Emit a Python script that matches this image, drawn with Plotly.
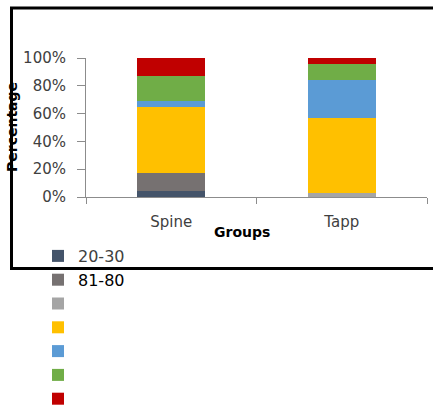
import plotly.graph_objects as go

# Age-band shares per surgical group (fractions of 1)
groups = ["Spine", "Tapp"]
bands = ["20-30", "81-80", " ", "  ", "   ", "    ", "     "]
colors = ["#44546A", "#767171", "#A5A5A5", "#FFC000", "#5B9BD5", "#70AD47", "#C00000"]
share_spine = [0.04, 0.13, 0.00, 0.48, 0.04, 0.18, 0.13]
share_tapp = [0.00, 0.00, 0.03, 0.54, 0.27, 0.12, 0.04]

W, H = 433, 405
ML, MR, MT, MB = 86, 6, 58, 208
PW, PH = W - ML - MR, H - MT - MB


def px_x(p):
    return (p - ML) / PW


def px_y(p):
    return (H - MB - p) / PH


fig = go.Figure()
for i, name in enumerate(bands):
    label = name
    if name == "81-80":
        label = "<span style='color:#000000'>81-80</span>"
    fig.add_trace(go.Bar(
        x=groups,
        y=[share_spine[i], share_tapp[i]],
        name=label,
        marker=dict(color=colors[i], line=dict(width=0)),
    ))

axis_grey = "#8C8C8C"
text_grey = "#404040"

fig.update_layout(
    width=W, height=H,
    margin=dict(l=ML, r=MR, t=MT, b=MB, pad=0, autoexpand=False),
    barmode="stack",
    bargap=0.6,
    plot_bgcolor="white",
    paper_bgcolor="white",
    font=dict(family="DejaVu Sans", size=15, color=text_grey),
    showlegend=True,
    legend=dict(
        traceorder="normal",
        orientation="v",
        x=px_x(38), xanchor="left",
        y=px_y(239), yanchor="top",
        font=dict(family="DejaVu Sans", size=16, color=text_grey),
        bgcolor="rgba(0,0,0,0)",
        borderwidth=0,
    ),
    xaxis=dict(
        type="category",
        range=[-0.5, 1.5],
        showline=True, linecolor=axis_grey, linewidth=1,
        ticks="outside", tickson="boundaries", ticklen=6, tickcolor=axis_grey,
        showgrid=False, zeroline=False,
        tickfont=dict(size=15, color=text_grey),
        ticklabelstandoff=11,
    ),
    yaxis=dict(
        range=[0, 1],
        tickvals=[0, 0.2, 0.4, 0.6, 0.8, 1.0],
        tickformat=".0%",
        showline=True, linecolor=axis_grey, linewidth=1,
        ticks="outside", ticklen=8, tickcolor=axis_grey,
        showgrid=False, zeroline=False,
        tickfont=dict(size=15, color=text_grey),
        ticklabelstandoff=8,
    ),
    shapes=[
        dict(type="rect", xref="paper", yref="paper",
             x0=px_x(11.5), x1=px_x(445), y0=px_y(268.5), y1=px_y(8),
             line=dict(color="black", width=3), fillcolor="rgba(0,0,0,0)",
             layer="above"),
    ],
    annotations=[
        dict(text="<b>Groups</b>", xref="paper", yref="paper",
             x=px_x(242), y=px_y(232), xanchor="center", yanchor="middle",
             showarrow=False, font=dict(family="DejaVu Sans", size=14, color="#000000")),
        dict(text="<b>Percentage</b>", xref="paper", yref="paper",
             x=px_x(12), y=px_y(127), xanchor="center", yanchor="middle",
             textangle=-90, showarrow=False,
             font=dict(family="DejaVu Sans", size=14, color="#000000")),
    ],
)

fig.write_html("out.html")
